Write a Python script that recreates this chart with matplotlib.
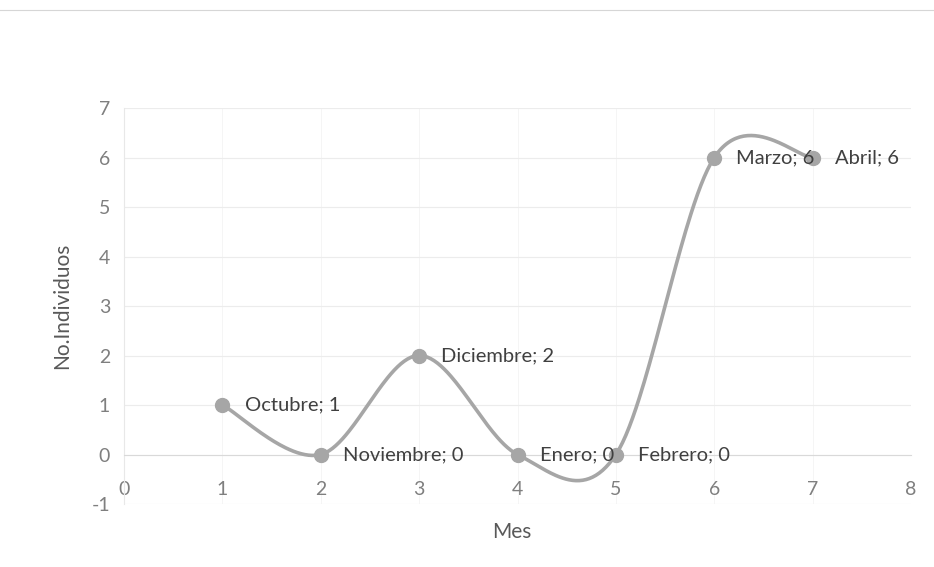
import numpy as np
import matplotlib.pyplot as plt
from matplotlib.lines import Line2D

# ── Data ──────────────────────────────────────────────────────────────────────
meses = ["Octubre", "Noviembre", "Diciembre", "Enero", "Febrero", "Marzo", "Abril"]
mes_num = [1, 2, 3, 4, 5, 6, 7]
individuos = [1, 0, 2, 0, 0, 6, 6]

GREY_LINE = "#a6a6a6"
TICK = "#7f7f7f"
TXT = "#595959"
LBL = "#404040"


# ── Excel-style smoothed line (Catmull-Rom -> cubic Bezier) ──────────────────
def smooth(xs, ys, n=60):
    P = np.column_stack([xs, ys]).astype(float)
    out = []
    for i in range(len(P) - 1):
        p0 = P[i - 1] if i > 0 else P[i]
        p1, p2 = P[i], P[i + 1]
        p3 = P[i + 2] if i + 2 < len(P) else P[i + 1]
        c1 = p1 + (p2 - p0) / 6.0
        c2 = p2 - (p3 - p1) / 6.0
        t = np.linspace(0, 1, n)[:, None]
        seg = ((1 - t) ** 3) * p1 + 3 * ((1 - t) ** 2) * t * c1 \
            + 3 * (1 - t) * t ** 2 * c2 + t ** 3 * p2
        out.append(seg)
    seg = np.vstack(out)
    return seg[:, 0], seg[:, 1]


plt.rcParams["font.family"] = ["Lato", "DejaVu Sans"]
plt.rcParams["axes.unicode_minus"] = False

fig = plt.figure(figsize=(9.34, 5.67), dpi=100)
ax = fig.add_axes([0.1328, 0.1111, 0.8426, 0.6984])

ax.set_xlim(0, 8)
ax.set_ylim(-1, 7)
ax.set_xticks(range(0, 9))
ax.set_yticks(range(-1, 8))

# faint gridlines
ax.grid(True, axis="y", color="#ececec", lw=0.8)
ax.grid(True, axis="x", color="#f4f4f4", lw=0.6)
ax.set_axisbelow(True)

for s in ["top", "right"]:
    ax.spines[s].set_visible(False)
ax.spines["bottom"].set_position(("data", 0))
ax.spines["bottom"].set_color("#d9d9d9")
ax.spines["left"].set_color("#e8e8e8")
ax.tick_params(axis="both", length=0, colors=TICK, labelsize=14)
ax.tick_params(axis="x", pad=19)
ax.tick_params(axis="y", pad=10)

sx, sy = smooth(mes_num, individuos)
ax.plot(sx, sy, color=GREY_LINE, lw=2.6, zorder=3, solid_capstyle="round")
ax.plot(mes_num, individuos, "o", ms=10, color=GREY_LINE, zorder=4)

for m, x, y in zip(meses, mes_num, individuos):
    ax.annotate(f"{m}; {y}", (x, y), xytext=(16, 0), textcoords="offset points",
                va="center", ha="left", fontsize=14.5, color=LBL, zorder=5)

ax.set_ylabel("No.Individuos", fontsize=15, color=TXT, labelpad=14)
ax.set_xlabel("Mes", fontsize=15, color=TXT)
ax.xaxis.set_label_coords(0.4925, -0.045)

# scan edge line at the top
fig.add_artist(Line2D([0, 1], [0.982, 0.982], color="#d6d6d6", lw=0.8))

fig.savefig("out.png", dpi=100, facecolor="white")
